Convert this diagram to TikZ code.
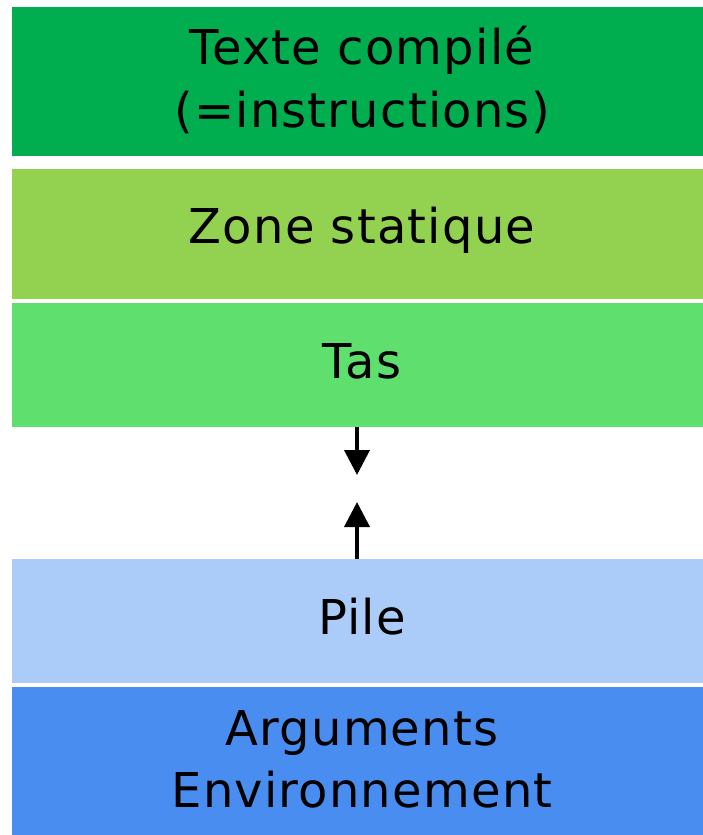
\documentclass[tikz,border=0pt]{standalone}
\usepackage{fontspec}
\setmainfont[LetterSpace=2.5]{DejaVu Sans}
\usetikzlibrary{arrows.meta}
\definecolor{cA}{HTML}{00AE4F}
\definecolor{cB}{HTML}{93D150}
\definecolor{cC}{HTML}{5EDF6E}
\definecolor{cD}{HTML}{ABCBF8}
\definecolor{cE}{HTML}{4A8DF0}
\tikzset{
  zone/.style={draw=none, inner sep=0pt, outer sep=0pt, anchor=north west, minimum width=692pt},
  lbl/.style={anchor=base, inner sep=0pt, font=\fontsize{48}{62}\selectfont, text=black},
  arr/.style={-{Triangle[width=25pt,length=25pt]}, line width=3.8pt, black}
}
\begin{document}
\begin{tikzpicture}[x=1pt,y=-1pt]
\useasboundingbox[fill=white] (0,0) rectangle (703,835);
\node[zone, fill=cA, minimum height=149pt] (b1) at (11.5,7) {};
\node[zone, fill=cB, minimum height=130pt] (b2) at (11.5,169) {};
\node[zone, fill=cC, minimum height=124pt] (b3) at (11.5,303) {};
\node[zone, fill=cD, minimum height=124pt] (b4) at (11.5,559) {};
\node[zone, fill=cE, minimum height=150pt] (b5) at (11.5,687) {};
\node[lbl] (t1a) at (362,64) {Texte compilé};
\node[lbl] (t1b) at (362,127) {(=instructions)};
\node[lbl] (t2) at (362,243) {Zone statique};
\node[lbl] (t3) at (362,378) {Tas};
\node[lbl] (t4) at (362,634) {Pile};
\node[lbl] (t5a) at (362,745) {Arguments};
\node[lbl] (t5b) at (362,807) {Environnement};
\coordinate (d) at (357,475);
\coordinate (u) at (357,502);
\draw[arr] (b3.south -| d) -- (d);
\draw[arr] (b4.north -| u) -- (u);
\end{tikzpicture}
\end{document}
